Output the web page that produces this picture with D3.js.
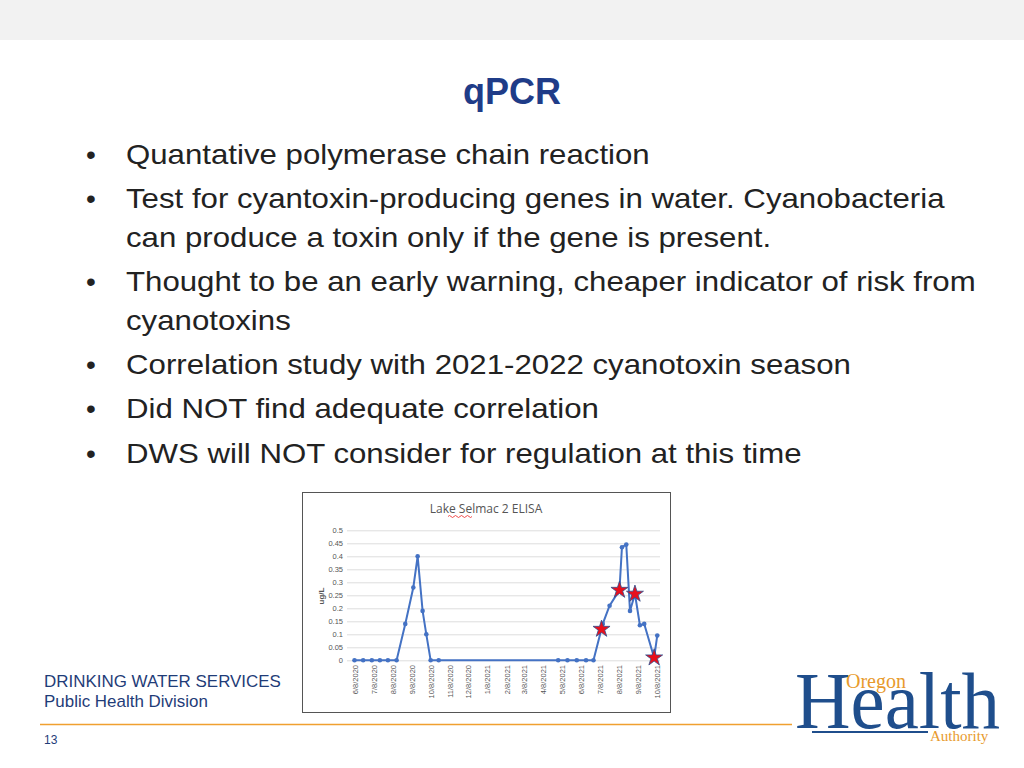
<!DOCTYPE html>
<html><head><meta charset="utf-8">
<script src="https://cdn.jsdelivr.net/npm/d3@7"></script>
<style>body{margin:0;background:#fff}svg{display:block}</style>
</head><body>
<script>
// slide text
let bullets = [
  ["Quantative polymerase chain reaction"],
  ["Test for cyantoxin-producing genes in water. Cyanobacteria", "can produce a toxin only if the gene is present."],
  ["Thought to be an early warning, cheaper indicator of risk from", "cyanotoxins"],
  ["Correlation study with 2021-2022 cyanotoxin season"],
  ["Did NOT find adequate correlation"],
  ["DWS will NOT consider for regulation at this time"]
]

// chart data (ug/L)
let dates = ["2020-06-08","2020-06-22","2020-07-06","2020-07-19","2020-08-01","2020-08-15","2020-08-29","2020-09-11","2020-09-18","2020-09-26","2020-10-02","2020-10-09","2020-10-22",
  "2021-05-03","2021-05-18","2021-06-02","2021-06-17","2021-06-29","2021-07-14","2021-07-25","2021-08-10","2021-08-14","2021-08-21","2021-08-27","2021-09-04","2021-09-12","2021-09-19","2021-10-05","2021-10-10"]
let values = [0,0,0,0,0,0,0.14,0.28,0.40,0.19,0.10,0,0,
  0,0,0,0,0,0.14,0.21,0.27,0.435,0.445,0.19,0.255,0.135,0.14,0.01,0.095]
let starDates = ["2021-07-12","2021-08-10","2021-09-04","2021-10-05"]
let starValues = [0.12,0.27,0.255,0.01]
let tickDates = ["2020-06-08","2020-07-08","2020-08-08","2020-09-08","2020-10-08","2020-11-08","2020-12-08","2021-01-08","2021-02-08","2021-03-08","2021-04-08","2021-05-08","2021-06-08","2021-07-08","2021-08-08","2021-09-08","2021-10-08"]
let yTicks = [0,0.05,0.1,0.15,0.2,0.25,0.3,0.35,0.4,0.45,0.5]

let pd = d3.timeParse("%Y-%m-%d")
let svg = d3.select("body").append("svg").attr("width",1024).attr("height",768)
  .style("font-family","'Liberation Sans', Arial, sans-serif")

svg.append("rect").attr("width",1024).attr("height",40).attr("fill","#f2f2f2")
svg.append("text").attr("x",512).attr("y",104).attr("text-anchor","middle")
  .attr("font-size",36).attr("font-weight","bold").attr("fill","#1f3c88").text("qPCR")

let baselines = [[164],[208,247],[291,330],[374],[418],[463]]
bullets.forEach((b,i)=>{
  svg.append("text").attr("x",86).attr("y",baselines[i][0]).attr("font-size",28).attr("fill","#222").text("•")
  b.forEach((line,j)=>{
    svg.append("text").attr("transform",`translate(126,${baselines[i][j]}) scale(1.095,1)`)
      .attr("font-size",28.5).attr("fill","#222").text(line)
  })
})

// chart box
let g = svg.append("g")
g.append("rect").attr("x",302.5).attr("y",492.5).attr("width",368).attr("height",220)
  .attr("fill","#fff").attr("stroke","#555").attr("stroke-width",1)
g.append("text").attr("x",486).attr("y",513).attr("text-anchor","middle").attr("font-size",12)
  .attr("fill","#555").attr("font-family","'Open Sans', sans-serif").text("Lake Selmac 2 ELISA")
g.append("path").attr("d","M448,516.5 q1.5,-2 3,0 t3,0 t3,0 t3,0 t3,0 t3,0 t3,0 t3,0")
  .attr("fill","none").attr("stroke","#e22").attr("stroke-width",0.8)

let x = d3.scaleTime().domain([pd("2020-06-08"),pd("2021-10-08")]).range([354.5,656])
let y = d3.scaleLinear().domain([0,0.5]).range([660.3,530.3])

g.append("g").attr("transform","translate(347,0)")
  .call(d3.axisLeft(y).tickValues(yTicks).tickSize(-313).tickFormat(d=>String(d)))
  .call(a=>a.select(".domain").remove())
  .call(a=>a.selectAll("line").attr("stroke","#ddd"))
  .call(a=>a.selectAll("text").attr("fill","#555").attr("font-size",7.5).attr("x",-4))

g.append("text").attr("transform","translate(324,596) rotate(-90)").attr("text-anchor","middle")
  .attr("font-size",8).attr("font-weight","bold").attr("fill","#555").text("ug/L")

let xa = g.append("g").attr("transform","translate(0,661)")
  .call(d3.axisBottom(x).tickValues(tickDates.map(pd)).tickSize(0).tickFormat(d3.timeFormat("%-m/%-d/%Y")))
xa.select(".domain").remove()
xa.selectAll("text").attr("fill","#555").attr("font-size",7.5)
  .attr("transform","rotate(-90)").attr("text-anchor","end").attr("dx",-4).attr("dy",3).attr("x",0).attr("y",0)

let pts = dates.map((d,i)=>({d:pd(d),v:values[i]}))
g.append("path").datum(pts).attr("fill","none").attr("stroke","#4472c4").attr("stroke-width",2)
  .attr("d",d3.line().x(p=>x(p.d)).y(p=>y(p.v)))
g.selectAll("circle.pt").data(pts).join("circle").attr("class","pt").attr("cx",p=>x(p.d)).attr("cy",p=>y(p.v))
  .attr("r",2.3).attr("fill","#4472c4")

let star = d3.symbol().type(d3.symbolStar).size(90)
g.selectAll("path.star").data(starDates.map((d,i)=>({d:pd(d),v:starValues[i]}))).join("path")
  .attr("class","star").attr("d",star).attr("transform",p=>`translate(${x(p.d)},${y(p.v)})`)
  .attr("fill","#e8101c").attr("stroke","#2f4f8f").attr("stroke-width",0.8)

// footer
let foot = [["DRINKING WATER SERVICES",687],["Public Health Division",707]]
foot.forEach(f=>svg.append("text").attr("transform",`translate(44,${f[1]}) scale(1.06,1)`)
  .attr("font-size",16).attr("fill","#1f3c78").text(f[0]))
svg.append("line").attr("x1",40).attr("x2",792).attr("y1",724.5).attr("y2",724.5).attr("stroke","#f0a030").attr("stroke-width",1.5)
svg.append("text").attr("x",44).attr("y",744).attr("font-size",12).attr("fill","#1f3c78").text("13")

// logo
let lg = svg.append("g").attr("font-family","'Liberation Serif', 'DejaVu Serif', serif")
lg.append("text").attr("x",795).attr("y",728).attr("font-size",80).attr("fill","#1f4e8c")
  .attr("textLength",205).attr("lengthAdjust","spacingAndGlyphs").text("Health")
lg.append("rect").attr("x",798).attr("y",664).attr("width",44).attr("height",6).attr("fill","#fff")
lg.append("text").attr("x",846).attr("y",688).attr("font-size",20).attr("fill","#e89a2c").text("Oregon")
lg.append("line").attr("x1",812).attr("x2",928).attr("y1",732).attr("y2",732).attr("stroke","#1f4e8c").attr("stroke-width",2)
lg.append("text").attr("x",930).attr("y",741).attr("font-size",15).attr("fill","#e89a2c").text("Authority")
</script>
</body></html>
